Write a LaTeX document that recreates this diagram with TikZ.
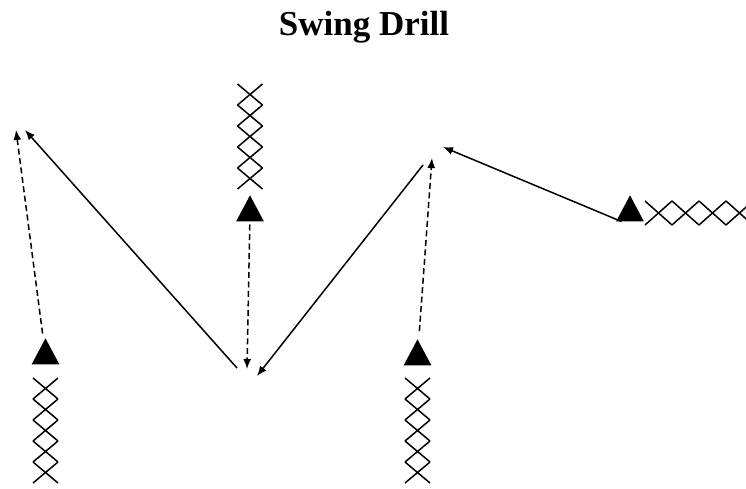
\documentclass[tikz,border=0pt]{standalone}
\usepackage{fontspec}
\setmainfont{Liberation Serif}
\usetikzlibrary{arrows.meta, shapes.geometric}
\tikzset{
  plr/.style={isosceles triangle, shape border rotate=90, isosceles triangle apex angle=56, fill=black, inner sep=0pt, minimum width=26pt, minimum height=26pt},
  run/.style={-{Latex[length=10pt,width=8pt]}, line width=1.5pt},
  pas/.style={run, dash pattern=on 6pt off 3.5pt},
  crs/.style={line width=1.5pt},
  ttl/.style={font=\fontsize{35}{40}\selectfont\bfseries, inner sep=0pt, anchor=base}
}
% a column of crosses: centre x, top y
\newcommand{\xcol}[2]{\foreach \i in {0,...,4} {\draw[crs] ({#1-12.5},{#2+21*\i}) -- ({#1+12.5},{#2+21*(\i+1)}) ({#1+12.5},{#2+21*\i}) -- ({#1-12.5},{#2+21*(\i+1)});}}
\begin{document}
\begin{tikzpicture}[x=1pt, y=-1pt]
		\clip (0,0) rectangle (746,489);
		\node[ttl] (title) at (364,36) {Swing Drill};
		% players
		\node[plr] (tL) at (45.5,356) {};
		\node[plr] (tM) at (250,213) {};
		\node[plr] (tB) at (417.5,357) {};
		\node[plr] (tR) at (630,213) {};
		% lines of waiting players
		\xcol{45.5}{378}
		\xcol{250}{84}
		\xcol{417.5}{378}
		\foreach \i in {0,...,3} {\draw[crs] ({645+27*\i},201) -- ({672+27*\i},225) ({645+27*\i},225) -- ({672+27*\i},201);}
		% free ends
		\coordinate (pL) at (16,130);
		\coordinate (rL) at (25,130);
		\coordinate (pM) at (247,369);
		\coordinate (sM) at (237,368);
		\coordinate (rM) at (257,376);
		\coordinate (sT) at (423,165);
		\coordinate (pT) at (432,158);
		\coordinate (rT) at (443,147);
		% passes and runs
		\draw[pas, shorten <=8pt] (tL) -- (pL);
		\draw[run] (sM) -- (rL);
		\draw[pas, shorten <=3pt] (tM) -- (pM);
		\draw[run] (sT) -- (rM);
		\draw[pas, shorten <=10pt] (tB) -- (pT);
		\draw[run] (tR.south west) -- (rT);
	\end{tikzpicture}
\end{document}
